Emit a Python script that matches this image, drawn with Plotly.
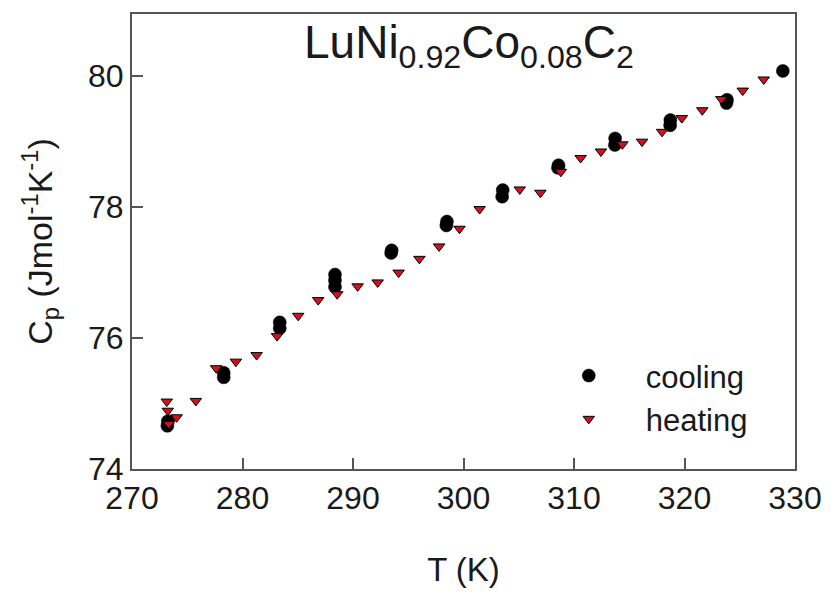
import plotly.graph_objects as go

# Cooling data (black circles)
cool_T = [273.2, 273.25, 278.3, 278.3, 283.37, 283.37, 288.37, 288.37, 288.37,
          293.45, 293.5, 298.45, 298.5, 303.5, 303.55, 308.55, 308.6,
          313.7, 313.72, 318.7, 318.72, 323.8, 323.85, 328.9]
cool_Cp = [74.66, 74.73, 75.40, 75.47, 76.15, 76.24, 76.78, 76.88, 76.97,
           77.30, 77.34, 77.72, 77.78, 78.16, 78.26, 78.60, 78.64,
           78.95, 79.05, 79.25, 79.33, 79.59, 79.64, 80.08]

# Heating data (red down-triangles)
heat_T = [273.15, 273.24, 273.33, 274.04, 275.78, 277.62, 279.40, 281.28, 283.13,
          285.04, 286.85, 288.57, 290.42, 292.23, 294.13, 296.01, 297.79, 299.64,
          301.46, 305.09, 306.96, 308.81, 310.60, 312.44, 314.38, 316.16, 317.97,
          319.76, 321.61, 323.33, 325.27, 327.17]
heat_Cp = [75.03, 74.89, 74.69, 74.79, 75.04, 75.54, 75.64, 75.74, 76.03,
           76.34, 76.58, 76.67, 76.79, 76.85, 77.00, 77.21, 77.40, 77.67,
           77.97, 78.27, 78.22, 78.54, 78.75, 78.85, 78.96, 79.00, 79.15,
           79.36, 79.48, 79.65, 79.78, 79.95]

x_ticks = [270, 280, 290, 300, 310, 320, 330]
y_ticks = [74, 76, 78, 80]

FONT = "Liberation Sans, Arial, sans-serif"
AX = "#555555"
TXT = "#1a1a1a"

fig = go.Figure()
fig.add_trace(go.Scatter(
    x=cool_T, y=cool_Cp, mode="markers", name="cooling",
    marker=dict(symbol="circle", size=13, color="black",
                line=dict(color="black", width=0.5)),
))
fig.add_trace(go.Scatter(
    x=heat_T, y=heat_Cp, mode="markers", name="heating",
    marker=dict(symbol="triangle-down", size=10, color="#D0121F",
                line=dict(color="black", width=1)),
))

fig.update_layout(
    width=834, height=594,
    margin=dict(l=132, r=30, t=14, b=116),
    paper_bgcolor="white", plot_bgcolor="white",
    font=dict(family=FONT, color=TXT, size=32),
    showlegend=True,
    legend=dict(x=0.603, y=0.264, xanchor="left", yanchor="top",
                bgcolor="rgba(0,0,0,0)", font=dict(size=31, family=FONT, color=TXT),
                itemwidth=104, tracegroupgap=0),
    annotations=[dict(
        text="LuNi<sub>0.92</sub>Co<sub>0.08</sub>C<sub>2</sub>",
        xref="paper", yref="paper", x=0.509, y=1.0, xanchor="center", yanchor="top",
        showarrow=False, font=dict(size=46, family=FONT, color=TXT),
    )],
)
fig.update_xaxes(
    range=[270, 330], tickvals=x_ticks, ticktext=[str(v) for v in x_ticks],
    ticks="inside", ticklen=11, tickwidth=1.5, tickcolor=AX,
    showline=True, linecolor=AX, linewidth=2, mirror=True,
    showgrid=False, zeroline=False,
    tickfont=dict(size=32, family=FONT, color=TXT),
    title=dict(text="T (K)", font=dict(size=33, family=FONT, color=TXT), standoff=42),
)
fig.update_yaxes(
    range=[74, 80.95], tickvals=y_ticks, ticktext=[str(v) for v in y_ticks],
    ticks="inside", ticklen=11, tickwidth=1.5, tickcolor=AX,
    showline=True, linecolor=AX, linewidth=2, mirror=True,
    showgrid=False, zeroline=False,
    tickfont=dict(size=32, family=FONT, color=TXT),
    title=dict(text="C<sub>p</sub> (Jmol<sup>-1</sup>K<sup>-1</sup>)",
               font=dict(size=34, family=FONT, color=TXT), standoff=25),
)

fig.write_html("out.html", config={"displayModeBar": False},
               post_script="document.body.style.margin='0';document.body.style.overflow='hidden';")
